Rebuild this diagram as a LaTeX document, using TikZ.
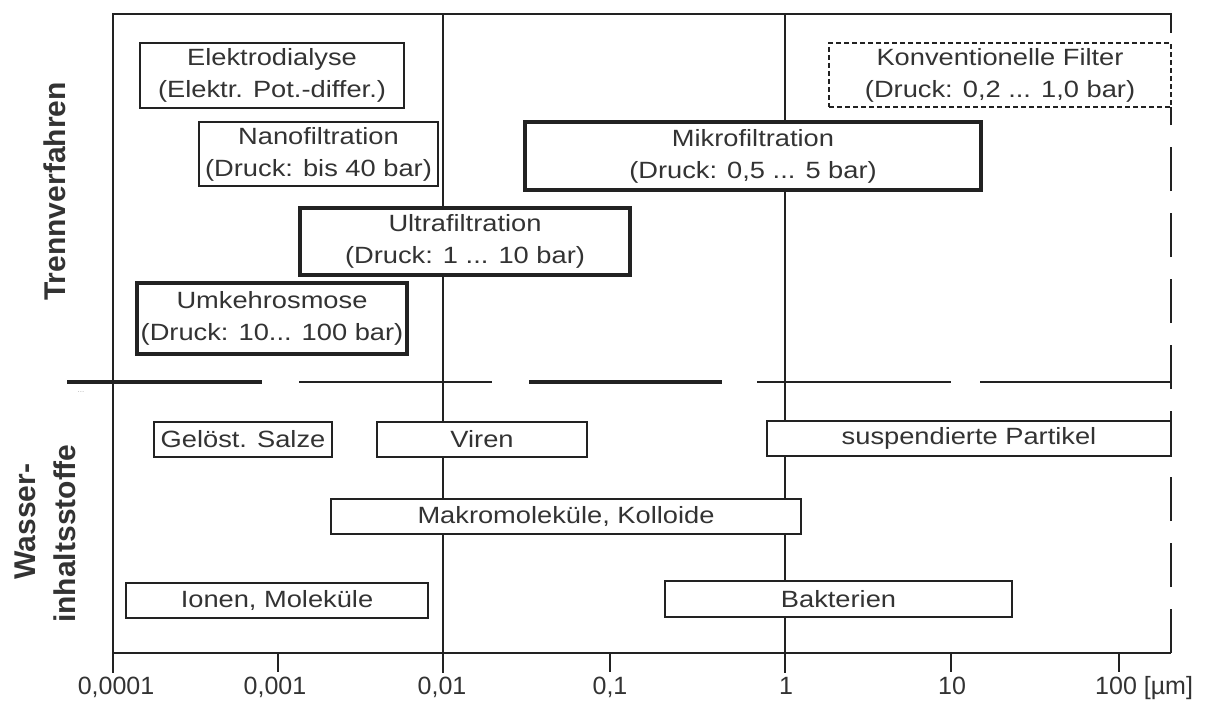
\documentclass[tikz,border=0pt]{standalone}
\usepackage{fontspec}
\newfontfamily\boxfont{Liberation Sans}[FakeStretch=1.16]
\newfontfamily\axfont{Liberation Sans}
\definecolor{ink}{HTML}{222222}
\definecolor{txt}{HTML}{333333}
\begin{document}
\begin{tikzpicture}[x=1pt,y=-1pt,
  pbox/.style={draw=ink, fill=white, inner sep=0pt, align=center, text=txt,
    font=\boxfont\fontsize{23.5}{32}\selectfont},
  bthin/.style={line width=1.9pt},
  bmid/.style={line width=2.6pt},
  bheavy/.style={line width=4pt},
  konvstyle/.style={line width=2.2pt, dash pattern=on 5pt off 3pt},
  gridline/.style={draw=ink, line width=1.8pt},
  axisline/.style={draw=ink, line width=2.8pt},
  seppart/.style={draw=ink, line width=2.4pt},
  sidelab/.style={text=txt, font=\axfont\bfseries\fontsize{30}{40}\selectfont,
    rotate=90, anchor=base, inner sep=0pt},
  ticklab/.style={text=txt, font=\axfont\fontsize{25}{30}\selectfont,
    anchor=base, inner sep=0pt}]
\useasboundingbox (0,0) rectangle (1206,701);
\fill[white] (0,0) rectangle (1206,701);

% grid lines and ticks
\draw[gridline] (443,14) -- (443,673);
\draw[gridline] (785,14) -- (785,673);
\draw[gridline] (278,653) -- (278,672);
\draw[gridline] (610,653) -- (610,672);
\draw[gridline] (951,653) -- (951,672);
\draw[gridline] (1119,653) -- (1119,672);

% frame
\draw[axisline] (1171,33) -- (1171,14) -- (113,14) -- (113,673);
\draw[axisline] (113,653) -- (1171,653);
\draw[axisline, dash pattern=on 44pt off 22pt] (1171,653) -- (1171,107);

% separator
\draw[seppart, line width=3.2pt] (67,382) -- (262,382);
\draw[seppart, line width=2.2pt] (299,382) -- (492,382);
\draw[seppart, line width=3.2pt] (529,382) -- (722,382);
\draw[seppart, line width=2.2pt] (757,382) -- (951,382);
\draw[seppart, line width=2.6pt] (980,382) -- (1171,382);
\node[text=gray!60, font=\axfont\fontsize{8}{8}\selectfont, inner sep=0pt] (dots) at (81,392) {...};

% side labels
\node[sidelab] (trenn) at (65,191.5) {Trennverfahren};
\node[sidelab] (wasser) at (35,521.5) {Wasser-};
\node[sidelab] (inhalt) at (75,533.5) {inhaltsstoffe};

% Trennverfahren boxes
\node[pbox, bthin, minimum width=264, minimum height=65] (elek) at (272,75.5)
  {Elektrodialyse\\(Elektr. Pot.-differ.)};
\node[pbox, bthin, minimum width=239, minimum height=64] (nano) at (318.5,154)
  {Nanofiltration\\(Druck: bis 40 bar)};
\node[pbox, bheavy, minimum width=330, minimum height=67] (ultra) at (465,241.5)
  {Ultrafiltration\\(Druck: 1 ... 10 bar)};
\node[pbox, bheavy, minimum width=270, minimum height=71] (umk) at (272,318.5)
  {Umkehrosmose\\(Druck: 10... 100 bar)};
\node[pbox, bheavy, minimum width=456, minimum height=68] (mikro) at (753,156)
  {Mikrofiltration\\(Druck: 0,5 ... 5 bar)};
\node[pbox, konvstyle, minimum width=342, minimum height=64] (konv) at (1000,75)
  {Konventionelle Filter\\(Druck: 0,2 ... 1,0 bar)};

% Wasserinhaltsstoffe boxes
\node[pbox, bmid, minimum width=178, minimum height=35] (salze) at (243,439.5) {Gelöst. Salze};
\node[pbox, bthin, minimum width=210, minimum height=35] (viren) at (482,439.5) {Viren};
\node[pbox, bthin, minimum width=470, minimum height=35] (makro) at (566,516.5) {Makromoleküle, Kolloide};
\node[pbox, bthin, minimum width=302, minimum height=35] (ionen) at (277,600.5) {Ionen, Moleküle};
\node[pbox, bmid, minimum width=404, minimum height=35] (partikel) at (969,438.5) {suspendierte Partikel};
\node[pbox, bmid, minimum width=347, minimum height=36] (bakt) at (838.5,599) {Bakterien};

% axis labels
\node[ticklab] (t1) at (116,694) {0,0001};
\node[ticklab] (t2) at (275,694) {0,001};
\node[ticklab] (t3) at (442,694) {0,01};
\node[ticklab] (t4) at (610,694) {0,1};
\node[ticklab] (t5) at (786,694) {1};
\node[ticklab] (t6) at (952,694) {10};
\node[ticklab, anchor=base west] (t7) at (1095,694) {100 [µm]};
\end{tikzpicture}
\end{document}
